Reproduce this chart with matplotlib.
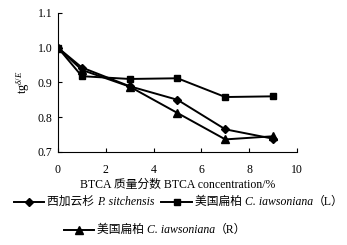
import matplotlib.pyplot as plt
from matplotlib.lines import Line2D
from matplotlib.offsetbox import TextArea, DrawingArea, HPacker, AnchoredOffsetbox

plt.rcParams['font.family'] = ['Liberation Serif', 'Noto Sans CJK SC']
plt.rcParams['mathtext.fontset'] = 'custom'
plt.rcParams['mathtext.rm'] = 'Liberation Serif'
plt.rcParams['mathtext.it'] = 'Liberation Serif:italic'

concentration = [0, 1, 3, 5, 7, 9]
sitchensis = [1.0, 0.943, 0.889, 0.850, 0.765, 0.738]
lawsoniana_l = [1.0, 0.918, 0.910, 0.912, 0.858, 0.860]
lawsoniana_r = [1.0, 0.936, 0.888, 0.812, 0.736, 0.745]

# legend labels as (plain, italic, plain) pieces
labels = [('西加云杉 ', 'P. sitchensis', ''),
          ('美国扁柏 ', 'C. iawsoniana', '（L）'),
          ('美国扁柏 ', 'C. iawsoniana', '（R）')]
markers = [('D', 4), ('s', 5), ('^', 5.5)]

FS = 8.5

fig = plt.figure(figsize=(3.47, 2.45), dpi=100)
ax = fig.add_axes([0.167, 0.38, 0.689, 0.567])

for ys, (m, ms) in zip([sitchensis, lawsoniana_l, lawsoniana_r], markers):
    ax.plot(concentration, ys, color='black', lw=1.4, marker=m, ms=ms)

ax.set_xlim(0, 10)
ax.set_ylim(0.7, 1.1)
ax.set_xticks([0, 2, 4, 6, 8, 10])
ax.set_yticks([0.7, 0.8, 0.9, 1.0, 1.1])
ax.set_yticklabels(['0.7', '0.8', '0.9', '1.0', '1.1'])
ax.spines['top'].set_visible(False)
ax.spines['right'].set_visible(False)
ax.tick_params(direction='in', length=3, width=0.8, labelsize=FS)
ax.tick_params(axis='x', pad=9)
ax.tick_params(axis='y', pad=4)

ax.set_xlabel('BTCA 质量分数 BTCA concentration/%', fontsize=FS, labelpad=2)
ax.set_ylabel('tg$^{\\delta/E}$', fontsize=FS + 0.5, labelpad=4)


def legend_entry(i):
    # DrawingArea units are points
    m, ms = markers[i]
    da = DrawingArea(22, 6, 0, 0)
    da.add_artist(Line2D([0, 22], [3, 3], color='black', lw=1.4))
    da.add_artist(Line2D([11], [3], color='black', marker=m, ms=ms))
    pre, it, post = labels[i]
    parts = [da, DrawingArea(2, 6, 0, 0)]
    parts.append(TextArea(pre, textprops=dict(size=FS)))
    parts.append(TextArea(it, textprops=dict(size=FS, style='italic')))
    if post:
        parts.append(TextArea(post, textprops=dict(size=FS)))
    return HPacker(children=parts, sep=0, align='center', pad=0)


row1 = HPacker(children=[legend_entry(0), legend_entry(1)], sep=5, align='center', pad=0)
row2 = legend_entry(2)

for box, pos in [(row1, (0.515, 0.175)), (row2, (0.447, 0.06))]:
    anchored = AnchoredOffsetbox(loc='center', child=box, pad=0, borderpad=0, frameon=False,
                                 bbox_to_anchor=pos, bbox_transform=fig.transFigure)
    fig.add_artist(anchored)

fig.savefig('out.png', dpi=100)
